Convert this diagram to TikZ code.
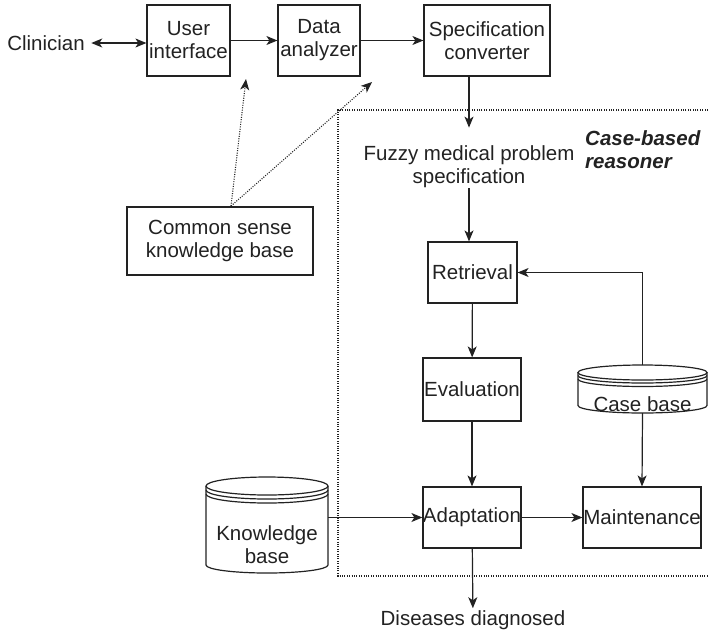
\documentclass[tikz,border=0pt]{standalone}
\usepackage{fontspec}
\setmainfont{Liberation Sans}
\usetikzlibrary{arrows.meta,calc}
\definecolor{ink}{HTML}{222222}
\begin{document}
\begin{tikzpicture}[x=1pt,y=1pt,
  every node/.style={text=ink,font=\fontsize{20.5}{23}\selectfont},
  box/.style={draw=ink,line width=1.2pt,align=center,inner sep=0pt},
  link/.style={draw=ink,line width=1.2pt,-{Stealth[length=11pt,width=9pt,inset=3pt]}},
  hint/.style={draw=ink,line width=1.1pt,dash pattern=on 1pt off 1.4pt,-{Stealth[length=11pt,width=9pt,inset=3pt]}},
  drum/.style={draw=ink,line width=1.2pt},
  anchorbox/.style={inner sep=0pt,outer sep=0pt}]
\useasboundingbox (0,0) rectangle (708,-635);

% case-based reasoner boundary (open to the right)
\draw[ink,line width=1.1pt,dash pattern=on 1pt off 1.4pt]
  (708,-110) -- (338,-110) -- (338,-576) -- (708,-576);

% top row
\node (clin) at (46,-43) {Clinician};
\node[box,minimum width=83,minimum height=71] (ui) at (188.5,-40.5) {User\\interface};
\node[box,minimum width=82,minimum height=71] (da) at (319,-40.5) {Data\\analyzer};
\node[box,minimum width=126,minimum height=71] (sc) at (487,-40.5) {Specification\\converter};

\node[box,minimum width=186,minimum height=68] (csk) at (220,-241) {Common sense\\knowledge base};

% reasoner contents
\node[align=center,inner sep=0pt] (fuzzy) at (469,-167) {Fuzzy medical problem\\specification};
\node[align=left,anchor=north west,inner sep=0pt,font=\fontsize{20.5}{23}\selectfont\bfseries\itshape]
  (cbr) at (585,-130) {Case-based\\reasoner};

\node[box,minimum width=89,minimum height=61] (ret) at (472.5,-272.5) {Retrieval};
\node[box,minimum width=98,minimum height=63] (eval) at (472,-389.5) {Evaluation};
\node[box,minimum width=98,minimum height=61] (adapt) at (472,-517.5) {Adaptation};
\node[box,minimum width=118,minimum height=61] (maint) at (642,-517.5) {Maintenance};
\node[inner sep=2pt] (diag) at (473,-620) {Diseases diagnosed};

% case base drum
\node[anchorbox,minimum width=129,minimum height=48] (cb) at (642.5,-389) {};
\draw[drum,fill=white] (642.5,-372.5) ellipse [x radius=64.5,y radius=7.5];
\draw[drum] (578,-375.5) arc[start angle=180,end angle=360,x radius=64.5,y radius=7.5];
\draw[drum] (578,-379) arc[start angle=180,end angle=360,x radius=64.5,y radius=7.5];
\draw[drum] (578,-372.5) -- (578,-405.5)
  arc[start angle=180,end angle=360,x radius=64.5,y radius=7.5] -- (707,-372.5);
\node (cbl) at (642.5,-404) {Case base};

% knowledge base drum
\node[anchorbox,minimum width=122,minimum height=96] (kb) at (267,-525) {};
\draw[drum] (267,-486) ellipse [x radius=61,y radius=9];
\draw[drum] (206,-490) arc[start angle=180,end angle=360,x radius=61,y radius=9];
\draw[drum] (206,-494) arc[start angle=180,end angle=360,x radius=61,y radius=9];
\draw[drum] (206,-486) -- (206,-565)
  arc[start angle=180,end angle=360,x radius=61,y radius=8] -- (328,-486);
\node[align=center,inner sep=0pt] (kbl) at (267,-545) {Knowledge\\base};

% free ends of the advisory links
\coordinate (cskt) at (231,-206);
\coordinate (uiend) at (246,-79);
\coordinate (daend) at (372,-82);

% connectors
\draw[draw=ink,line width=1.2pt,{Stealth[length=11pt,width=9pt,inset=3pt]}-{Stealth[length=11pt,width=9pt,inset=3pt]}]
  (clin.east) ++(3,0) coordinate (clinr) (clinr) -- (ui.west |- clinr);
\draw[link] (ui) -- (da);
\draw[link] (da) -- (sc);
\draw[link] (sc.south -| fuzzy) -- ++(0,-51);
\draw[link] (fuzzy.south) -- (ret.north -| fuzzy);
\draw[link] (ret) -- (eval);
\draw[link] (eval) -- (adapt);
\draw[link] (adapt) -- (maint);
\draw[link] (adapt) -- (diag);
\draw[link] (cb.north) |- (ret.east);
\draw[link] (cb.south) -- (maint.north);
\draw[link] (kb.east |- adapt) -- (adapt.west);
\draw[hint] (cskt) -- (uiend);
\draw[hint] (cskt) -- (daend);
\end{tikzpicture}
\end{document}
